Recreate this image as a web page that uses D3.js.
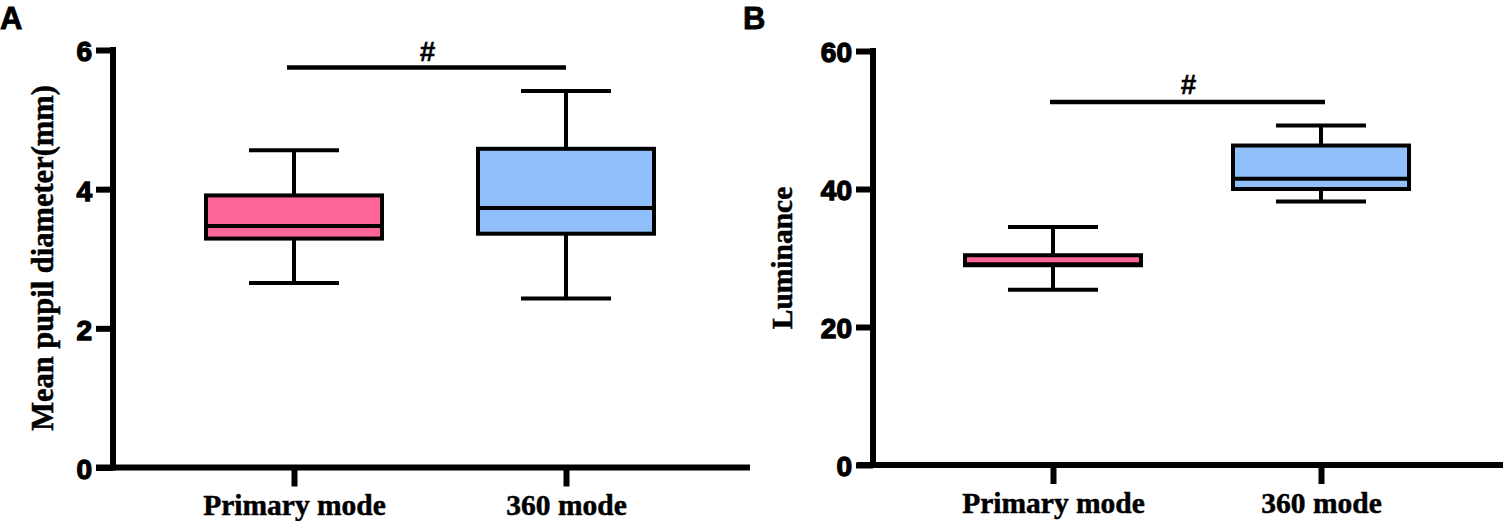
<!DOCTYPE html>
<html><head><meta charset="utf-8">
<script src="https://cdn.jsdelivr.net/npm/d3@7"></script>
<style>html,body{margin:0;background:#fff}svg{display:block}</style></head>
<body><svg id="c" width="1504" height="521"></svg>
<script>
const categories = ["Primary mode", "360 mode"];
const colors = ["#fc6595", "#90bff9"];
// [low whisker, q1, median, q3, high whisker]
const pupilPrimary = [2.65, 3.29, 3.47, 3.91, 4.56];
const pupil360 = [2.43, 3.36, 3.73, 4.58, 5.41];
const lumPrimary = [25.4, 28.95, 29.1, 30.4, 34.5];
const lum360 = [38.2, 40.0, 41.5, 46.3, 49.2];
const pupilTicks = [0, 2, 4, 6];
const lumTicks = [0, 20, 40, 60];
const pupilSig = 5.75, lumSig = 52.6;

const svg = d3.select("#c");
const SANS = "'Liberation Sans',Arial,sans-serif", SERIF = "'Liberation Serif','Times New Roman',serif";

function panel(o){
  const g = svg.append("g");
  const y = d3.scaleLinear().domain(o.domain).range([o.y0, o.y1]);
  const x = d3.scalePoint().domain(categories).range(o.cats);
  const yAxis = d3.axisLeft(y).tickValues(o.ticks).tickFormat(d3.format("d")).tickSize(17).tickPadding(4).tickSizeOuter(0);
  const xAxis = d3.axisBottom(x).tickSize(19).tickPadding(8).tickSizeOuter(0);
  const ga = g.append("g").attr("transform",`translate(${o.xAxisX},0)`).call(yAxis);
  const gb = g.append("g").attr("transform",`translate(0,${o.y0})`).call(xAxis);
  gb.select(".domain").attr("d",`M${o.xStart},0H${o.xEnd}`);
  ga.select(".domain").attr("d",`M0,${o.y0+3}V${o.y1-3}`);
  [ga,gb].forEach(a=>{a.selectAll(".domain").attr("stroke","#000").attr("stroke-width",6).attr("fill","none");
    a.selectAll(".tick line").attr("stroke","#000").attr("stroke-width",6);});
  ga.selectAll("text").attr("font-family",SANS).attr("font-weight","bold").attr("font-size",28).attr("fill","#000")
    .attr("stroke","#000").attr("stroke-width",1.3).attr("dy","0.39em");
  gb.selectAll("text").attr("font-family",SERIF).attr("font-weight","bold").attr("font-size",29.5).attr("fill","#000")
    .attr("stroke","#000").attr("stroke-width",0.5);

  o.series.forEach((s,i)=>{
    const cx = x(categories[i]);
    const b = g.append("g").attr("stroke","#000").attr("stroke-width",4);
    b.append("line").attr("x1",cx).attr("x2",cx).attr("y1",y(s[0])).attr("y2",y(s[4]));
    [s[0],s[4]].forEach(v=>b.append("line").attr("x1",cx-45).attr("x2",cx+45).attr("y1",y(v)).attr("y2",y(v)));
    b.append("rect").attr("x",cx-88).attr("width",176).attr("y",y(s[3])).attr("height",y(s[1])-y(s[3])).attr("fill",colors[i]);
    b.append("line").attr("x1",cx-88).attr("x2",cx+88).attr("y1",y(s[2])).attr("y2",y(s[2]));
  });
  g.append("line").attr("x1",o.sigX[0]).attr("x2",o.sigX[1]).attr("y1",y(o.sig)).attr("y2",y(o.sig)).attr("stroke","#000").attr("stroke-width",4.5);
  g.append("text").attr("x",(o.sigX[0]+o.sigX[1])/2+1).attr("y",y(o.sig)-o.hashGap).attr("text-anchor","middle")
    .attr("font-family",SANS).attr("font-weight","bold").attr("font-size",28).attr("stroke","#000").attr("stroke-width",0.4).text("#");
  g.append("text").attr("transform",`translate(${o.labelX},${o.labelY}) rotate(-90)`).attr("text-anchor","middle")
    .attr("font-family",SERIF).attr("font-weight","bold").attr("font-size",o.labelSize).attr("stroke","#000").attr("stroke-width",0.5).text(o.label);
  g.append("text").attr("x",o.letterX).attr("y",29).attr("font-family",SANS).attr("font-weight","bold").attr("font-size",31)
    .attr("stroke","#000").attr("stroke-width",0.8).text(o.letter);
}
panel({letter:"A",letterX:0,label:"Mean pupil diameter(mm)",labelX:53,labelY:258,labelSize:30.5,domain:[0,6],ticks:pupilTicks,hashGap:6,
  y0:467.5,y1:50,cats:[294,566],xAxisX:113,xStart:96,xEnd:750,series:[pupilPrimary,pupil360],sig:pupilSig,sigX:[287,566]});
panel({letter:"B",letterX:743,label:"Luminance",labelX:792,labelY:258,labelSize:29.5,domain:[0,60],ticks:lumTicks,hashGap:8,
  y0:465,y1:51,cats:[1053,1321],xAxisX:873,xStart:857,xEnd:1503,series:[lumPrimary,lum360],sig:lumSig,sigX:[1050,1325]});
</script></body></html>
